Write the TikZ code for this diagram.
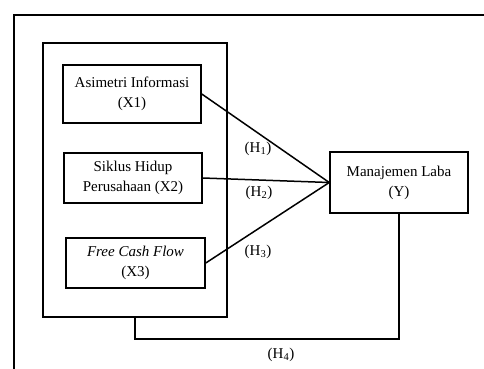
\documentclass[tikz,border=0pt]{standalone}
\usepackage{fontspec}
\setmainfont{Liberation Serif}
\usepackage{tikz}
\usetikzlibrary{positioning, calc}

\begin{document}
\begin{tikzpicture}[x=1pt, y=-1pt, line width=1.5pt,
        varbox/.style={draw, rectangle, align=center, minimum width=138pt, inner sep=2pt},
        hlabel/.style={inner sep=1pt}]
        \fontsize{15}{20}\selectfont
        \useasboundingbox (0,0) rectangle (484,369);

        % Outer frame
        \draw (14,369) -- (14,15) -- (484,15);

        % Independent variables
        \node[draw, rectangle, minimum width=184pt, minimum height=274pt] (group) at (135,180) {};
        \node[varbox, minimum height=58pt] (asim) at (132,94) {Asimetri Informasi\\(X1)};
        \node[varbox, minimum height=50pt] (siklus) at (133,178) {Siklus Hidup\\Perusahaan (X2)};
        \node[varbox, minimum width=139pt, minimum height=50pt] (fcf) at (135.5,263) {\textit{Free Cash Flow}\\(X3)};

        % Dependent variable
        \node[varbox, minimum height=61pt] (laba) at (399,182.5) {Manajemen Laba\\(Y)};

        % Hypotheses
        \draw (asim.east) -- (laba.west);
        \draw (siklus.east) -- (laba.west);
        \draw (fcf.east) -- (laba.west);
        \draw (group.south) -- ++(0,21) -| (laba.south);

        \node[hlabel] (h1) at (258,149) {(H\textsubscript{1})};
        \node[hlabel] (h2) at (259,193) {(H\textsubscript{2})};
        \node[hlabel] (h3) at (258,252) {(H\textsubscript{3})};
        \node[hlabel] (h4) at (281,355) {(H\textsubscript{4})};

    \end{tikzpicture}
\end{document}
